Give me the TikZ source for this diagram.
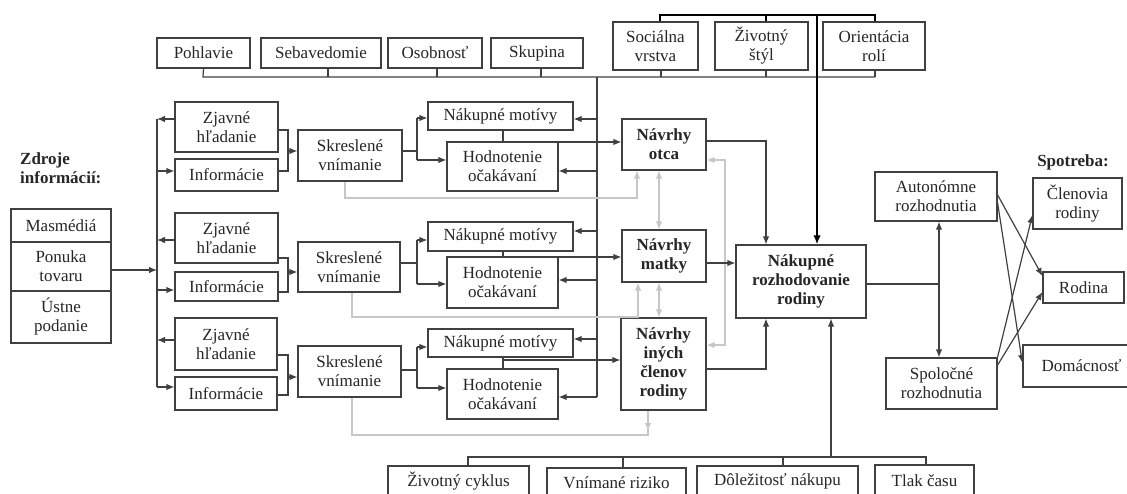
\documentclass[tikz,border=0pt]{standalone}
\usepackage{fontspec}
\setmainfont{Liberation Serif}
\usetikzlibrary{arrows.meta}
\newcommand\fs{\fontsize{17}{19}\selectfont}
\newcommand\mybox[7][]{\node[box,#1,minimum width={(#4-#2)*1pt},minimum height={(#5-#3)*1pt}] (#6) at ({(#2+#4)/2},{(#3+#5)/2}) {#7};}
\tikzset{
  box/.style={draw=black!75,line width=1.2pt,fill=white,align=center,inner sep=0pt,font=\fs,text=black!85},
  bbox/.style={font=\fs\bfseries},
  ln/.style={draw=black!75,line width=1.2pt},
  arr/.style={ln,-{Latex[length=8pt,width=6.5pt]}},
  gln/.style={draw=black!22,line width=1.2pt},
  garr/.style={gln,-{Latex[length=8pt,width=6.5pt]}},
  gdarr/.style={gln,{Latex[length=8pt,width=6.5pt]}-{Latex[length=8pt,width=6.5pt]}},
  lbl/.style={font=\fs\bfseries,text=black!85,align=left,inner sep=0pt}
}
\begin{document}
\begin{tikzpicture}[x=1pt,y=-1pt]
\useasboundingbox (0,0) rectangle (1127,494);
\clip (0,0) rectangle (1127,494);
% top row
\mybox{157}{38}{250}{68}{poh}{Pohlavie}
\mybox{261}{38}{381}{68}{seb}{Sebavedomie}
\mybox{388}{38}{482}{68}{oso}{Osobnosť}
\mybox{491}{38}{583}{68}{sku}{Skupina}
\mybox{613}{22}{698}{70}{soc}{Sociálna\\vrstva}
\mybox{715}{22}{808}{70}{ziv}{Životný\\štýl}
\mybox{823}{22}{925}{70}{ori}{Orientácia\\rolí}
% sources
\node[lbl,anchor=west] (zdr) at (20,168) {Zdroje\\informácií:};
\mybox{11}{209}{111}{242}{src1}{Masmédiá}
\mybox{11}{242}{111}{291}{src2}{Ponuka\\tovaru}
\mybox{11}{291}{111}{343}{src3}{Ústne\\podanie}
% groups
\mybox{175}{102}{278}{152}{zj1}{Zjavné\\hľadanie}
\mybox{175}{159}{278}{191}{in1}{Informácie}
\mybox{175}{213}{278}{263}{zj2}{Zjavné\\hľadanie}
\mybox{175}{272}{278}{301}{in2}{Informácie}
\mybox{175}{318}{277}{370}{zj3}{Zjavné\\hľadanie}
\mybox{175}{377}{277}{410}{in3}{Informácie}
\mybox{298}{130}{402}{181}{sk1}{Skreslené\\vnímanie}
\mybox{298}{242}{400}{292}{sk2}{Skreslené\\vnímanie}
\mybox{298}{346}{401}{397}{sk3}{Skreslené\\vnímanie}
\mybox{428}{102}{573}{130}{nm1}{Nákupné motívy}
\mybox{447}{142}{558}{191}{ho1}{Hodnotenie\\očakávaní}
\mybox{428}{222}{573}{251}{nm2}{Nákupné motívy}
\mybox{447}{257}{558}{308}{ho2}{Hodnotenie\\očakávaní}
\mybox{428}{329}{573}{357}{nm3}{Nákupné motívy}
\mybox{447}{369}{558}{419}{ho3}{Hodnotenie\\očakávaní}
\mybox[bbox]{622}{119}{706}{170}{no}{Návrhy\\otca}
\mybox[bbox]{622}{230}{706}{282}{nmat}{Návrhy\\matky}
\mybox[bbox]{621}{318}{706}{410}{ni}{Návrhy\\iných\\členov\\rodiny}
\mybox[bbox]{736}{245}{866}{318}{rozh}{Nákupné\\rozhodovanie\\rodiny}
% right
\mybox{875}{172}{997}{221}{au}{Autonómne\\rozhodnutia}
\mybox{886}{358}{997}{409}{sp}{Spoločné\\rozhodnutia}
\node[lbl] (spo) at (1073,162) {Spotreba:};
\mybox{1033}{178}{1122}{229}{cl}{Členovia\\rodiny}
\mybox{1043}{272}{1124}{303}{ro}{Rodina}
\mybox{1023}{345}{1140}{387}{do}{Domácnosť}
% bottom
\mybox{388}{466}{529}{497}{zc}{Životný cyklus}
\mybox{547}{468}{686}{497}{vr}{Vnímané riziko}
\mybox{697}{466}{858}{497}{dn}{Dôležitosť nákupu}
\mybox{875}{465}{974}{497}{tc}{Tlak času}

% top connectors
\draw[ln] (poh.south) -- (203,77) -- (875,77);
\foreach \n/\x in {seb/328,oso/437,sku/541,soc/661,ziv/766,ori/875}
  \draw[ln] (\n.south -| \x,0) -- (\x,77);
\draw[ln,black] (soc.north -| 660,0) -- (660,15) -- (875,15) -- (ori.north -| 875,0);
\draw[ln,black] (ziv.north -| 766,0) -- (766,15);
\draw[black,line width=2.2pt,-{Latex[length=9pt,width=7.5pt]}] (817,15) -- (rozh.north -| 817,0);
% trunk at 597
\draw[ln] (597,77) -- (597,397);
\draw[arr] (597,119) -- (nm1.east |- 0,119);
\draw[arr] (597,171) -- (ho1.east |- 0,171);
\draw[arr] (597,231) -- (nm2.east |- 0,231);
\draw[arr] (597,280) -- (ho2.east |- 0,280);
\draw[arr] (597,339) -- (nm3.east |- 0,339);
\draw[arr] (597,397) -- (ho3.east |- 0,397);
% left trunk
\draw[ln] (157,119) -- (157,387);
\draw[arr] (src2.east |- 0,270) -- (157,270);
\draw[arr] (zj1.west |- 0,119) -- (157,119);
\draw[arr] (157,171) -- (in1.west |- 0,171);
\draw[arr] (zj2.west |- 0,240) -- (157,240);
\draw[arr] (157,290) -- (in2.west |- 0,290);
\draw[arr] (zj3.west |- 0,340) -- (157,340);
\draw[arr] (157,387) -- (in3.west |- 0,387);
% brackets into Skreslene
\draw[ln] (zj1.east |- 0,130) -- (288,130) -- (288,171) -- (in1.east |- 0,171);
\draw[arr] (288,151) -- (sk1.west |- 0,151);
\draw[ln] (zj2.east |- 0,258) -- (288,258) -- (288,292) -- (in2.east |- 0,292);
\draw[arr] (288,272) -- (sk2.west |- 0,272);
\draw[ln] (zj3.east |- 0,355) -- (288,355) -- (288,395) -- (in3.east |- 0,395);
\draw[arr] (288,377) -- (sk3.west |- 0,377);
% Skreslene to motives / evaluation
\draw[ln] (sk1.east |- 0,151) -- (417,151);
\draw[ln] (417,118) -- (417,160);
\draw[arr] (417,118) -- (nm1.west |- 0,118);
\draw[arr] (417,160) -- (ho1.west |- 0,160);
\draw[ln] (sk2.east |- 0,263) -- (417,263);
\draw[ln] (417,240) -- (417,284);
\draw[arr] (417,240) -- (nm2.west |- 0,240);
\draw[arr] (417,284) -- (ho2.west |- 0,284);
\draw[ln] (sk3.east |- 0,370) -- (417,370);
\draw[ln] (417,347) -- (417,388);
\draw[arr] (417,347) -- (nm3.west |- 0,347);
\draw[arr] (417,388) -- (ho3.west |- 0,388);
% motives + evaluation to proposals
\draw[ln] (nm1.south -| 503,0) -- (ho1.north -| 503,0);
\draw[arr] (503,142) -- (no.west |- 0,142);
\draw[ln] (nm2.south -| 503,0) -- (ho2.north -| 503,0);
\draw[arr] (503,257) -- (nmat.west |- 0,257);
\draw[ln] (nm3.south -| 503,0) -- (ho3.north -| 503,0);
\draw[arr] (503,360) -- (ni.west |- 0,360);
% gray links
\draw[garr] (sk1.south -| 345,0) -- (345,198) -- (637,198) -- (no.south -| 637,0);
\draw[garr] (sk2.south -| 352,0) -- (352,317) -- (638,317) -- (nmat.south -| 638,0);
\draw[gln] (sk3.south -| 352,0) -- (352,435) -- (648,435) -- (ni.south -| 648,0);
\draw[garr] (ni.south -| 648,0) -- (648,431);
\draw[gdarr] (no.south -| 659,0) -- (nmat.north -| 659,0);
\draw[gdarr] (nmat.south -| 659,0) -- (ni.north -| 659,0);
\draw[gdarr] (no.east |- 0,160) -- (725,160) -- (725,345) -- (ni.east |- 0,345);
% into decision
\draw[arr] (no.east |- 0,141) -- (766,141) -- (rozh.north -| 766,0);
\draw[arr] (nmat.east |- 0,263) -- (rozh.west |- 0,263);
\draw[arr] (ni.east |- 0,369) -- (766,369) -- (rozh.south -| 766,0);
% bottom bus
\draw[ln] (zc.north -| 468,0) -- (468,457) -- (926,457) -- (tc.north -| 926,0);
\draw[ln] (vr.north -| 623,0) -- (623,457);
\draw[ln] (dn.north -| 783,0) -- (783,457);
\draw[arr] (831,457) -- (rozh.south -| 831,0);
% right side
\draw[ln] (rozh.east |- 0,284) -- (939,284);
\draw[arr] (939,284) -- (au.south -| 939,0);
\draw[arr] (939,284) -- (sp.north -| 939,0);
\draw[arr] (au.east |- 0,195) -- (ro.west |- 0,276);
\draw[arr] (au.east |- 0,203) -- (do.west |- 0,363);
\draw[arr] (sp.east |- 0,357) -- (cl.west |- 0,215);
\draw[arr] (sp.east |- 0,365) -- (ro.west |- 0,292);
\end{tikzpicture}
\end{document}
